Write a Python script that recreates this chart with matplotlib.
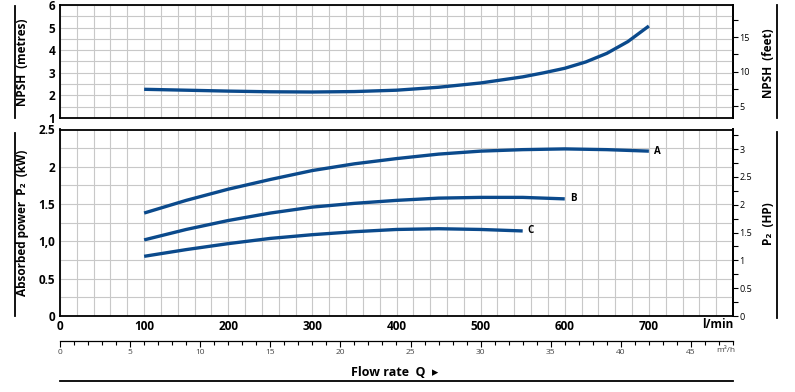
import numpy as np
import matplotlib.pyplot as plt
from matplotlib.lines import Line2D
from matplotlib.ticker import MultipleLocator, FixedLocator, FuncFormatter

plt.rcParams['font.family'] = ['Open Sans', 'DejaVu Sans']

# flow rate points (l/min) and curves
q_npsh = [100, 150, 200, 250, 300, 350, 400, 450, 500, 550, 575, 600, 625, 650, 675, 700]
npsh_m = [2.27, 2.23, 2.19, 2.16, 2.15, 2.17, 2.23, 2.36, 2.55, 2.82, 3.0, 3.20, 3.48, 3.86, 4.38, 5.07]

q_a = [100, 150, 200, 250, 300, 350, 400, 450, 500, 550, 600, 650, 700]
p_a = [1.38, 1.55, 1.70, 1.83, 1.95, 2.04, 2.11, 2.17, 2.21, 2.23, 2.24, 2.23, 2.21]
q_b = [100, 150, 200, 250, 300, 350, 400, 450, 500, 550, 600]
p_b = [1.02, 1.16, 1.28, 1.38, 1.46, 1.51, 1.55, 1.58, 1.59, 1.59, 1.57]
q_c = [100, 150, 200, 250, 300, 350, 400, 450, 500, 550]
p_c = [0.80, 0.89, 0.97, 1.04, 1.09, 1.13, 1.16, 1.17, 1.16, 1.14]

x_ticks = [0, 100, 200, 300, 400, 500, 600, 700]
npsh_ticks = [1, 2, 3, 4, 5, 6]
p_ticks = [0, 0.5, 1.0, 1.5, 2, 2.5]
p_labels = ['0', '0.5', '1,0', '1.5', '2', '2.5']

blue = '#0b4a8c'
grid_c = '#c8c8c8'
W, H = 795, 392


def fx(px):
    return px / W


def fy(py):
    return 1 - py / H


fig = plt.figure(figsize=(7.95, 3.92), dpi=100)
ax1 = fig.add_axes([fx(60), fy(118), fx(673), 113 / H])
ax2 = fig.add_axes([fx(60), fy(316), fx(673), 186.5 / H])

for ax in (ax1, ax2):
    ax.set_xlim(0, 800)
    ax.xaxis.set_minor_locator(MultipleLocator(20))
    ax.grid(which='both', color=grid_c, lw=0.8)
    ax.set_axisbelow(True)
    for s in ax.spines.values():
        s.set_linewidth(1.3)
    ax.tick_params(which='both', length=0)

# NPSH panel
ax1.set_ylim(1, 6)
ax1.yaxis.set_minor_locator(MultipleLocator(0.5))
ax1.set_yticks(npsh_ticks)
ax1.set_yticklabels([str(v) for v in npsh_ticks], fontweight='bold', fontsize=8.5)
ax1.set_xticks(x_ticks)
ax1.set_xticklabels([])
ax1.plot(q_npsh, npsh_m, color=blue, lw=2.4, solid_capstyle='butt')

ft = ax1.secondary_yaxis('right', functions=(lambda m: m / 0.3048, lambda f: f * 0.3048))
ft.yaxis.set_major_locator(FixedLocator([5, 10, 15]))
ft.yaxis.set_minor_locator(FixedLocator([7.5, 12.5, 17.5]))
ft.tick_params(which='both', length=3.5, width=0.8, labelsize=6.5, pad=1)
ft.spines['right'].set_linewidth(1.3)

# power panel
ax2.set_ylim(0, 2.5)
ax2.yaxis.set_minor_locator(MultipleLocator(0.25))
ax2.set_yticks(p_ticks)
ax2.set_yticklabels(p_labels, fontweight='bold', fontsize=8.5)
ax2.set_xticks(x_ticks)
ax2.set_xticklabels([str(v) for v in x_ticks], fontweight='bold', fontsize=8.5)
ax2.tick_params(axis='x', pad=3)
for q, p, name in [(q_a, p_a, 'A'), (q_b, p_b, 'B'), (q_c, p_c, 'C')]:
    ax2.plot(q, p, color=blue, lw=2.4, solid_capstyle='butt')
    ax2.text(q[-1] + 6, p[-1], name, fontsize=7, fontweight='bold', va='center', ha='left')
ax2.text(800, -0.03, 'l/min', fontsize=8.5, fontweight='bold', ha='right', va='top',
         transform=ax2.transData)

hp = ax2.secondary_yaxis('right', functions=(lambda k: k / 0.7457, lambda h: h * 0.7457))
hp.yaxis.set_major_locator(MultipleLocator(0.5))
hp.yaxis.set_minor_locator(MultipleLocator(0.25))
hp.yaxis.set_major_formatter(FuncFormatter(lambda v, pos: f'{v:g}'))
hp.tick_params(which='both', length=3.5, width=0.8, labelsize=6.5, pad=1)
hp.spines['right'].set_linewidth(1.3)

# m3/h scale under the chart
m3 = ax2.secondary_xaxis(-25 / 186.5, functions=(lambda l: l * 0.06, lambda m: m / 0.06))
m3.xaxis.set_major_locator(FixedLocator(list(range(0, 50, 5))))
m3.xaxis.set_minor_locator(MultipleLocator(1))
m3.tick_params(which='major', length=4, width=0.8, labelsize=6, labelcolor='#444444', pad=2)
m3.tick_params(which='minor', length=3, width=0.8)
m3.spines['bottom'].set_linewidth(0.9)
fig.text(fx(726), fy(350), 'm³/h', fontsize=6, color='#444444', ha='center', va='center')

# axis titles
fig.text(fx(23), fy(62), 'NPSH  (metres)', rotation=90, fontsize=8.5, fontweight='bold',
         ha='center', va='center')
fig.text(fx(23), fy(223), 'Absorbed power  P₂  (kW)', rotation=90, fontsize=8.5,
         fontweight='bold', ha='center', va='center')
fig.text(fx(768), fy(63), 'NPSH  (feet)', rotation=90, fontsize=8.5, fontweight='bold',
         ha='center', va='center')
fig.text(fx(768), fy(224), 'P₂  (HP)', rotation=90, fontsize=8.5, fontweight='bold',
         ha='center', va='center')
fig.text(fx(395), fy(372), 'Flow rate  Q  ▸', fontsize=9, fontweight='bold',
         ha='center', va='center')

# decorative rules
for x0, y0, y1 in [(15, 6, 118), (15, 133, 316), (777, 5, 118), (777, 132, 318)]:
    fig.add_artist(Line2D([fx(x0), fx(x0)], [fy(y0), fy(y1)], color='black', lw=1.3))
fig.add_artist(Line2D([fx(60), fx(733)], [fy(381), fy(381)], color='black', lw=1.3))

fig.savefig('out.png', dpi=100)
